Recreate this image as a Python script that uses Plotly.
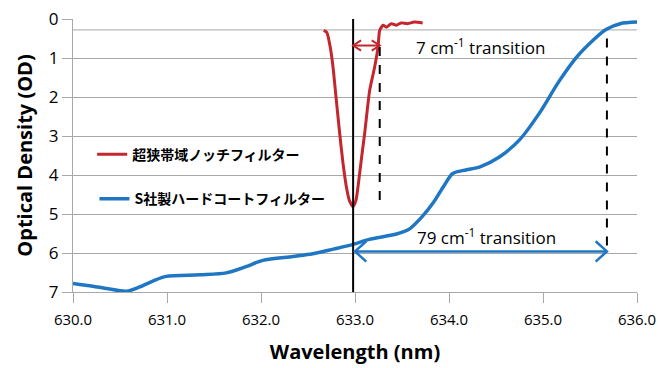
import plotly.graph_objects as go

# ---- data ----
notch_x = [632.667, 632.70, 632.735, 632.766, 632.80, 632.837, 632.87, 632.908, 632.94, 632.979,
           633.01, 633.032, 633.07, 633.103, 633.156, 633.209, 633.245, 633.263, 633.299, 633.334,
           633.387, 633.44, 633.49, 633.56, 633.63, 633.72]
notch_od = [0.29, 0.34, 0.70, 1.23, 2.05, 2.93, 3.65, 4.30, 4.65, 4.81,
            4.65, 4.30, 3.55, 2.93, 1.83, 1.23, 0.72, 0.29, 0.16, 0.21,
            0.12, 0.16, 0.10, 0.12, 0.08, 0.10]

hard_x = [630.0, 630.21, 630.355, 630.57, 630.71, 630.85, 630.99, 631.35, 631.63, 631.84, 632.02,
          632.34, 632.55, 632.77, 632.98, 633.15, 633.43, 633.57, 633.71, 633.83, 633.94, 634.04,
          634.18, 634.33, 634.54, 634.75, 634.96, 635.17, 635.36, 635.53, 635.67, 635.82, 636.0]
hard_od = [6.78, 6.85, 6.91, 6.98, 6.87, 6.72, 6.60, 6.56, 6.51, 6.35, 6.19,
           6.09, 6.02, 5.90, 5.78, 5.65, 5.52, 5.40, 5.08, 4.72, 4.30, 3.96,
           3.87, 3.79, 3.53, 3.10, 2.42, 1.60, 0.97, 0.55, 0.27, 0.12, 0.08]

series_names = ["超狭帯域ノッチフィルター", "S社製ハードコートフィルター"]
x_ticks = [630, 631, 632, 633, 634, 635, 636]
y_ticks = [0, 1, 2, 3, 4, 5, 6, 7]

laser_x = 632.98            # vertical reference line
notch_edge_x = 633.263      # 7 cm-1 edge
hard_edge_x = 635.68        # 79 cm-1 edge
notch_arrow_od = 0.68
hard_arrow_od = 5.96
notch_label = "7 cm<sup>-1</sup> transition"
hard_label = "79 cm<sup>-1</sup> transition"
top_line_od = 0.28

RED = "#c4262e"
BLUE = "#1f77c4"
GRID = "#a8a8a8"

fig = go.Figure()

fig.add_trace(go.Scatter(x=notch_x, y=notch_od, mode="lines", name=series_names[0],
                         line=dict(color=RED, width=3, shape="spline", smoothing=0.6),
                         legend="legend"))
fig.add_trace(go.Scatter(x=hard_x, y=hard_od, mode="lines", name=series_names[1],
                         line=dict(color=BLUE, width=3.5, shape="spline", smoothing=0.8),
                         legend="legend2"))

def helper(x, y, color, width, dash="solid"):
    fig.add_trace(go.Scatter(x=x, y=y, mode="lines", showlegend=False, hoverinfo="skip",
                             line=dict(color=color, width=width, dash=dash)))

# vertical laser line
helper([laser_x, laser_x], [-0.02, 7], "black", 2)
# dashed edges
helper([notch_edge_x, notch_edge_x], [0.72, 4.72], "black", 2, "dash")
helper([hard_edge_x, hard_edge_x], [0.5, hard_arrow_od], "black", 2, "dash")

# double arrows with open chevrons
def double_arrow(x0, x1, y, color, width, ax, ay):
    helper([x0, x1], [y, y], color, width)
    helper([x0 + ax, x0, x0 + ax], [y - ay, y, y + ay], color, width)
    helper([x1 - ax, x1, x1 - ax], [y - ay, y, y + ay], color, width)

double_arrow(laser_x, notch_edge_x, notch_arrow_od, RED, 2, 0.085, 0.13)
double_arrow(laser_x + 0.02, hard_edge_x, hard_arrow_od, BLUE, 2.5, 0.12, 0.26)

# extra light line near top
fig.add_shape(type="line", xref="paper", x0=0, x1=1, y0=top_line_od, y1=top_line_od,
              line=dict(color=GRID, width=1), layer="below")

fig.add_annotation(x=634.33, y=0.70, text=notch_label, showarrow=False,
                   font=dict(family="Open Sans", size=17, color="black"))
fig.add_annotation(x=634.40, y=5.58, text=hard_label, showarrow=False,
                   font=dict(family="Open Sans", size=17, color="black"))

legend_font = dict(family="Noto Sans CJK JP", size=14, color="black", weight="bold")
fig.update_layout(
    width=658, height=368,
    margin=dict(l=73, r=21, t=19, b=76, autoexpand=False),
    paper_bgcolor="white", plot_bgcolor="white",
    legend=dict(x=0.034, y=0.503, xanchor="left", yanchor="middle", font=legend_font,
                bgcolor="rgba(0,0,0,0)", itemwidth=30),
    legend2=dict(x=0.038, y=0.34, xanchor="left", yanchor="middle", font=legend_font,
                 bgcolor="rgba(0,0,0,0)", itemwidth=30),
    xaxis=dict(range=[630, 636], tickvals=x_ticks, tickformat=".1f", showgrid=False,
               zeroline=False, showline=True, linecolor=GRID, linewidth=1, automargin=False,
               ticks="outside", ticklen=10, tickcolor=GRID, ticklabelstandoff=4,
               tickfont=dict(family="Open Sans", size=15, color="black"),
               title=dict(text="<b>Wavelength (nm)</b>", standoff=16,
                          font=dict(family="Open Sans", size=20, color="black"))),
    yaxis=dict(range=[7, 0], tickvals=y_ticks, showgrid=True, gridcolor=GRID, gridwidth=1,
               zeroline=False, showline=True, linecolor=GRID, linewidth=1, automargin=False,
               ticks="outside", ticklen=10, tickcolor=GRID,
               tickfont=dict(family="Open Sans", size=17, color="black"),
               title=dict(text="<b>Optical Density (OD)</b>", standoff=10,
                          font=dict(family="Open Sans", size=20, color="black"))),
)

fig.write_html("out.html", config={"displayModeBar": False},
               post_script="document.body.style.margin='0';document.body.style.overflow='hidden';")
